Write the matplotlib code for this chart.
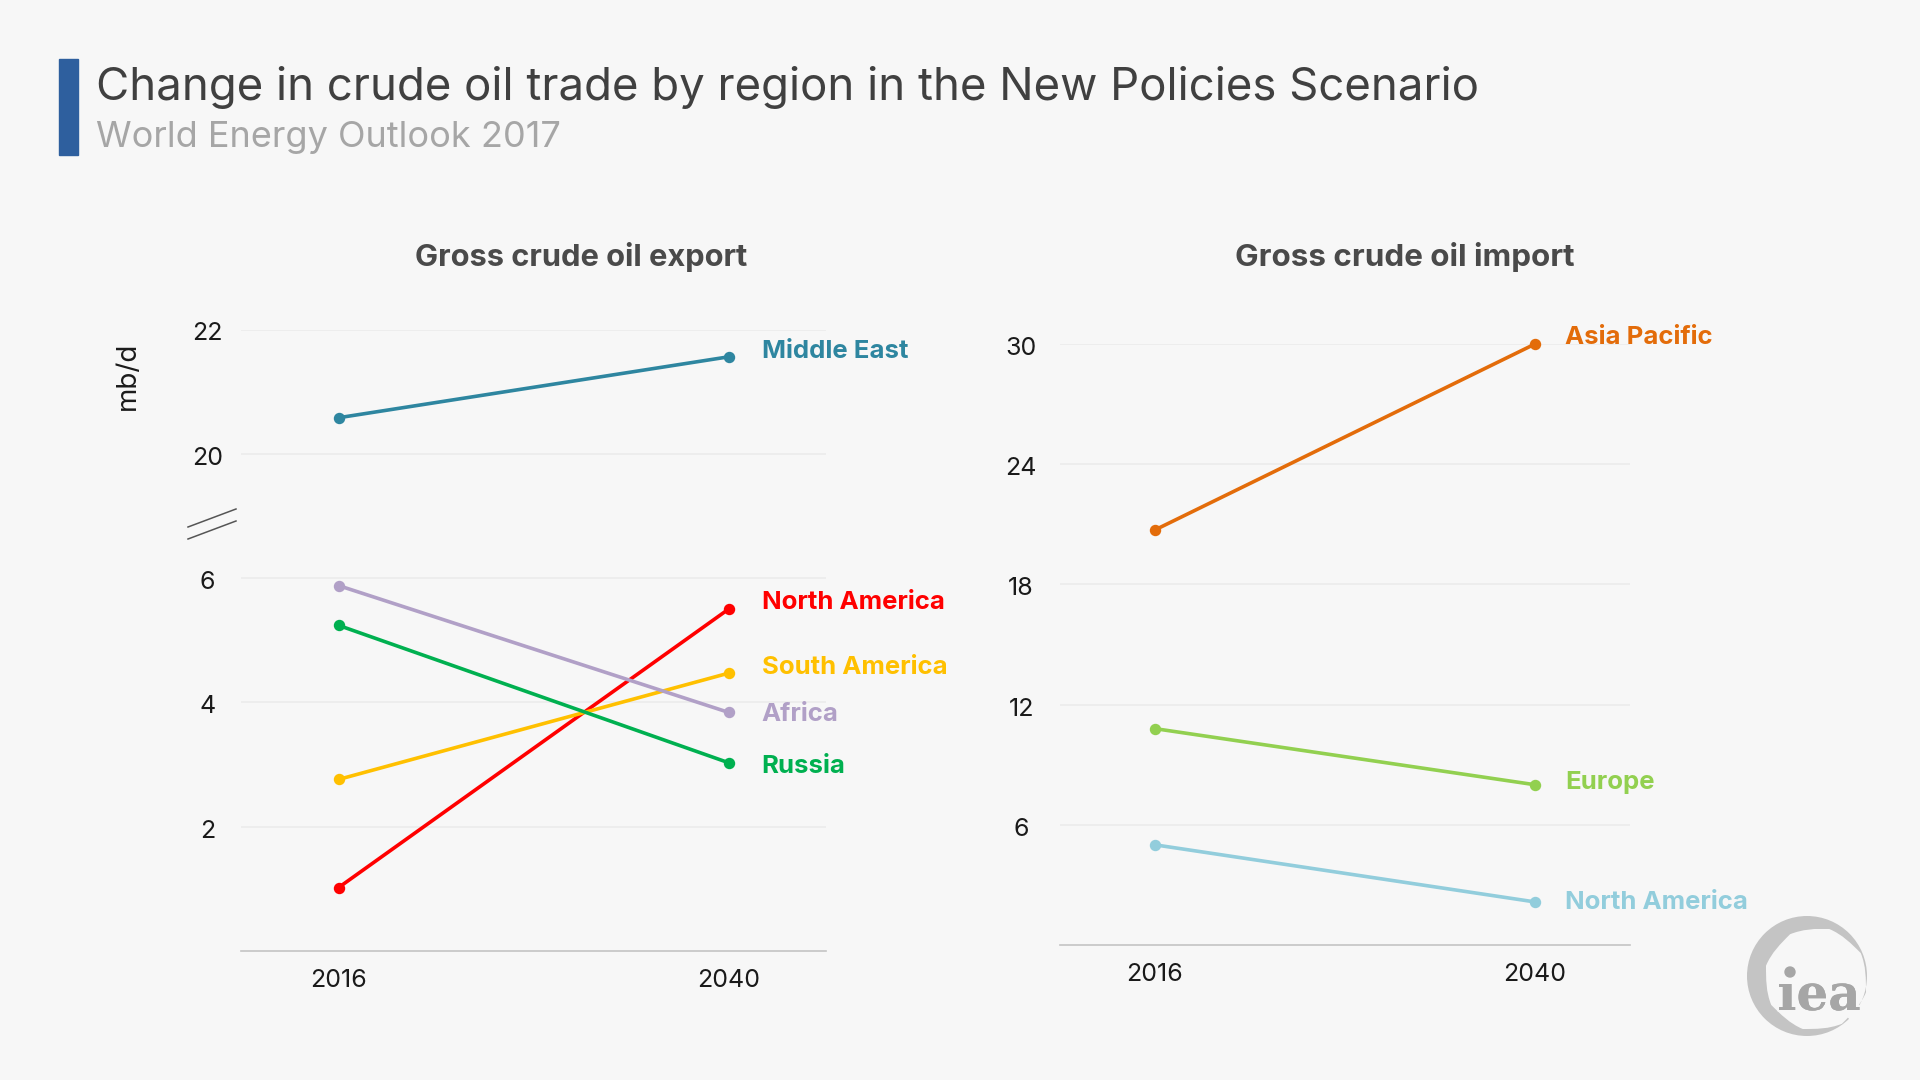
import matplotlib
matplotlib.use("Agg")
import matplotlib.pyplot as plt
from matplotlib.patches import Circle, PathPatch, Rectangle, Polygon
from matplotlib.path import Path
from matplotlib.transforms import ScaledTranslation
import matplotlib.patheffects as pe

plt.rcParams['font.family'] = ['Inter', 'DejaVu Sans']

# Data
years = ["2016", "2040"]

middle_east = [20.58, 21.56]
north_america_exp = [1.02, 5.5]
south_america = [2.76, 4.47]
africa = [5.88, 3.84]
russia = [5.24, 3.03]

asia_pacific = [20.72, 30.0]
europe = [10.8, 8.0]
north_america_imp = [5.0, 2.15]

export_ticks = [2, 4, 6, 20, 22]
import_ticks = [6, 12, 18, 24, 30]

BG = "#f7f7f7"
W, H = 1920, 1080


# The export axis is broken between 6 and 20
def broken(v):
    return v - 12 if v > 13 else v


def px_axes(fig, left, top, right, bottom):
    return fig.add_axes([left / W, 1 - bottom / H, (right - left) / W, (bottom - top) / H])


def style_axes(ax, ticks, labels, pad):
    ax.set_facecolor("none")
    ax.set_xlim(-0.25, 1.25)
    ax.set_xticks([0, 1])
    ax.set_xticklabels(years, fontsize=18, color="#1a1a1a")
    ax.set_yticks(ticks)
    ax.set_yticklabels(labels, fontsize=18, color="#1a1a1a", ha="center")
    ax.tick_params(axis="y", length=0, pad=pad)
    ax.tick_params(axis="x", length=0, pad=13)
    ax.grid(axis="y", color="#ebebeb", lw=1.2)
    ax.set_axisbelow(True)
    # tick numbers sit a little under their gridlines
    shift = ScaledTranslation(0, -2 / 100, fig.dpi_scale_trans)
    for lab in ax.get_yticklabels():
        lab.set_transform(lab.get_transform() + shift)
    for s in ["top", "left", "right"]:
        ax.spines[s].set_visible(False)
    ax.spines["bottom"].set_color("#c4c4c4")
    ax.spines["bottom"].set_linewidth(1.2)


def draw_series(ax, values, color, label, dx, dy):
    ax.plot([0, 1], values, color=color, lw=2.6, marker="o", ms=7.2, clip_on=False,
            solid_capstyle="round", zorder=3)
    ax.annotate(label, xy=(1, values[1]), xytext=(dx, dy), textcoords="offset pixels",
                color=color, fontsize=18.5, fontweight="bold", va="center", ha="left",
                annotation_clip=False)


fig = plt.figure(figsize=(W / 100, H / 100), dpi=100, facecolor=BG)

# Left panel: export
ax1 = px_axes(fig, 241, 329.5, 826, 951)
style_axes(ax1, [broken(t) for t in export_ticks], export_ticks, 24)
ax1.set_ylim(0, 10)
draw_series(ax1, [broken(v) for v in middle_east], "#2e86a0", "Middle East", 34, 5)
draw_series(ax1, north_america_exp, "#ff0000", "North America", 34, 7)
draw_series(ax1, south_america, "#ffc000", "South America", 34, 6)
draw_series(ax1, africa, "#b1a0c7", "Africa", 33, -2)
draw_series(ax1, russia, "#00b050", "Russia", 33, -4)

# Right panel: import
ax2 = px_axes(fig, 1060, 344, 1630, 945)
style_axes(ax2, import_ticks, import_ticks, 28)
ax2.set_ylim(0, 30)
draw_series(ax2, asia_pacific, "#e36c0a", "Asia Pacific", 30, 6)
draw_series(ax2, europe, "#92d050", "Europe", 30, 2)
draw_series(ax2, north_america_imp, "#92cddc", "North America", 30, -1)

# Overlay in pixel coordinates for header, axis break and logo
ov = fig.add_axes([0, 0, 1, 1])
ov.set_xlim(0, W)
ov.set_ylim(H, 0)
ov.axis("off")
ov.patch.set_alpha(0)

ov.add_patch(Rectangle((59, 59), 19, 96, color="#2e5f9e"))
ov.text(96.5, 87.5, "Change in crude oil trade by region in the New Policies Scenario",
        fontsize=32.8, color="#404040", va="center", ha="left")
ov.text(96.5, 137, "World Energy Outlook 2017", fontsize=26, color="#a6a6a6", va="center", ha="left")

ov.text(581, 256.5, "Gross crude oil export", fontsize=22.2, fontweight="bold", color="#4a4a4a",
        ha="center", va="center")
ov.text(1405, 256.5, "Gross crude oil import", fontsize=22.6, fontweight="bold", color="#4a4a4a",
        ha="center", va="center")
ov.text(128, 376, "mb/d", fontsize=20, color="#1a1a1a", rotation=90, ha="center", va="center")

ov.plot([188, 236], [527, 509], color="#555555", lw=1.1)
ov.plot([188, 236], [539, 521], color="#555555", lw=1.1)

# IEA logo: a crescent with the letters on top
outer = Path.circle((1807, 976), 60)
inner = Path.circle((1816, 979), 50)
ring = Path.make_compound_path(outer, Path(inner.vertices[::-1], inner.codes))
ov.add_patch(PathPatch(ring, facecolor="#c4c4c4", edgecolor="none"))
ov.add_patch(Polygon([(1846, 1014), (1872, 1000), (1876, 1012), (1854, 1024)], color=BG))
ov.add_patch(Circle((1790, 972), 5, color="#a6a6a6"))
ov.text(1819, 1010, "\u0131ea", fontsize=36, fontweight="bold", family="DejaVu Serif", color="#a6a6a6",
        ha="center", va="baseline",
        path_effects=[pe.withStroke(linewidth=3, foreground=BG), pe.Normal()])

fig.savefig("out.png", dpi=100, facecolor=BG)
